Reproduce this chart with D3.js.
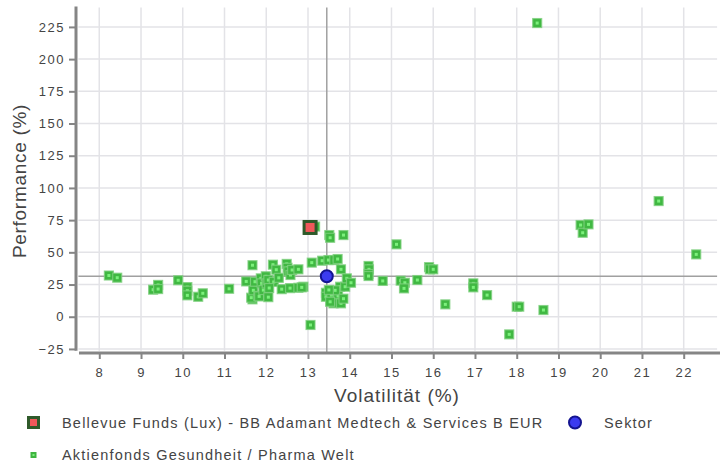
<!DOCTYPE html>
<html>
<head>
<meta charset="utf-8">
<script src="https://cdn.jsdelivr.net/npm/d3@7"></script>
<style>
  body { margin: 0; background: #fff; }
  text { font-family: "Liberation Sans", Arial, sans-serif; }
</style>
</head>
<body>
<div id="chart"></div>
<script>
// peer funds: volatility (%) and performance (%)
const peerVol = [
  8.23, 8.43, 9.29, 9.41, 9.41, 9.89, 10.11, 10.11, 10.11, 10.37, 10.48, 11.11,
  11.52, 11.67, 11.67, 11.64, 11.69, 11.73, 11.81, 11.83, 11.87, 11.89, 11.93, 11.99,
  12.01, 12.05, 12.05, 12.16, 12.18, 12.24, 12.30, 12.37, 12.49, 12.51, 12.53, 12.58,
  12.57, 12.62, 12.77, 12.77, 12.89, 13.03, 13.17, 13.09, 13.06, 13.34, 13.49, 13.51,
  13.53, 13.63, 13.71, 13.79, 13.85, 13.43, 13.43, 13.56, 13.72, 13.61, 13.79, 13.53,
  13.77, 13.89, 13.93, 14.03, 13.65, 13.85, 13.50, 14.45, 14.46, 14.45, 14.45, 14.79,
  15.12, 15.22, 15.32, 15.30, 15.62, 15.90, 15.92, 16.00, 16.29, 16.96, 16.96, 17.29,
  17.82, 18.00, 18.06, 18.49, 18.64, 19.53, 19.58, 19.72, 21.40, 22.30, 12.07, 12.85
];
const peerPerf = [
  32.0, 30.3, 21.0, 24.7, 21.5, 28.3, 23.0, 20.2, 16.6, 15.5, 18.2, 21.7,
  27.4, 40.0, 13.5, 14.8, 20.5, 27.2, 16.1, 15.8, 29.8, 25.9, 20.7, 31.4,
  25.9, 28.5, 15.2, 40.4, 27.0, 36.5, 30.2, 21.4, 41.0, 38.0, 35.2, 32.4,
  22.2, 36.3, 36.8, 22.5, 23.3, 69.5, 70.0, 42.0, -6.4, 43.5, 44.0, 63.4,
  61.3, 44.0, 44.8, 36.8, 63.4, 18.6, 15.5, 16.8, 16.1, 10.4, 10.4, 11.6,
  23.3, 23.3, 29.8, 26.4, 20.5, 14.0, 20.8, 39.4, 36.8, 33.2, 31.6, 27.8,
  56.2, 28.0, 26.4, 22.0, 28.5, 38.5, 36.8, 36.8, 9.6, 25.9, 22.8, 16.8,
  -13.7, 7.8, 7.8, 228.0, 5.2, 71.2, 65.2, 71.7, 89.8, 48.4, 22.3, 22.8
];

const fundName = 'Bellevue Funds (Lux) - BB Adamant Medtech & Services B EUR';
const fundVol = 13.05;
const fundPerf = 69.3;

const sectorName = 'Sektor';
const sectorVol = 13.45;
const sectorPerf = 31.4;

const peerName = 'Aktienfonds Gesundheit / Pharma  Welt';

const xTicks = [8, 9, 10, 11, 12, 13, 14, 15, 16, 17, 18, 19, 20, 21, 22];
const yTicks = [-25, 0, 25, 50, 75, 100, 125, 150, 175, 200, 225];

const width = 720;
const height = 463;

const svg = d3.select('#chart')
  .append('svg')
    .attr('width', width)
    .attr('height', height);

const x = d3.scaleLinear().domain([7.5, 22.8]).range([78.4, 717.1]);
const y = d3.scaleLinear().domain([-28, 240]).range([352.8, 7.6]);

const [x0, x1] = x.range();
const [y0, y1] = y.range();

// grid
svg.append('g')
  .selectAll('line')
  .data(xTicks)
  .join('line')
    .attr('x1', d => x(d)).attr('x2', d => x(d))
    .attr('y1', y1).attr('y2', y0 - 2)
    .attr('stroke', '#e3e3e7')
    .attr('stroke-width', 1.5);

svg.append('g')
  .selectAll('line')
  .data(yTicks)
  .join('line')
    .attr('x1', x0).attr('x2', x1)
    .attr('y1', d => y(d)).attr('y2', d => y(d))
    .attr('stroke', '#e3e3e7')
    .attr('stroke-width', 1.5);

// sector crosshair
svg.append('line')
  .attr('x1', x(sectorVol)).attr('x2', x(sectorVol))
  .attr('y1', y1).attr('y2', y0)
  .attr('stroke', '#a0a0a0')
  .attr('stroke-width', 1.5);
svg.append('line')
  .attr('x1', x0).attr('x2', x1)
  .attr('y1', y(sectorPerf)).attr('y2', y(sectorPerf))
  .attr('stroke', '#a0a0a0')
  .attr('stroke-width', 1.5);

// axes
const yAxis = svg.append('g')
  .attr('transform', 'translate(76,0)')
  .call(d3.axisLeft(y).tickValues(yTicks).tickSize(7).tickPadding(4).tickSizeOuter(0));
const xAxis = svg.append('g')
  .attr('transform', 'translate(0,353)')
  .call(d3.axisBottom(x).tickValues(xTicks).tickSize(6).tickPadding(9).tickSizeOuter(0));

[yAxis, xAxis].forEach(ax => {
  ax.select('.domain').attr('stroke', '#858585').attr('stroke-width', 3);
  ax.selectAll('.tick line').attr('stroke', '#858585').attr('stroke-width', 2);
  ax.selectAll('.tick text')
    .attr('fill', '#444')
    .style('font-size', '13px')
    .style('letter-spacing', '1.5px')
    .style('font-family', '"Liberation Sans", Arial, sans-serif');
});
yAxis.select('.domain').attr('d', `M0,${y1 - 1}V${y(-28) - 2}`);
xAxis.select('.domain').attr('d', `M79,0H${x1 + 3}`);

// axis titles
svg.append('text')
  .attr('x', 397).attr('y', 402)
  .attr('text-anchor', 'middle')
  .attr('fill', '#444')
  .style('font-size', '19px')
  .style('letter-spacing', '1px')
  .text('Volatilität (%)');

svg.append('text')
  .attr('transform', 'translate(26,181) rotate(-90)')
  .attr('text-anchor', 'middle')
  .attr('fill', '#444')
  .style('font-size', '19px')
  .style('letter-spacing', '0.7px')
  .text('Performance (%)');

// peer markers
function peerMarker(g, cx, cy) {
  g.append('rect')
    .attr('x', cx - 4.5).attr('y', cy - 4.5)
    .attr('width', 9).attr('height', 9)
    .attr('fill', '#40b842')
    .attr('stroke', '#80d080')
    .attr('stroke-opacity', 0.8)
    .attr('stroke-width', 1.2);
  g.append('rect')
    .attr('x', cx - 1.5).attr('y', cy - 1.5)
    .attr('width', 3).attr('height', 3)
    .attr('fill', '#7cf07c');
}

const peers = svg.append('g');
peerVol.forEach((v, i) => peerMarker(peers, x(v), y(peerPerf[i])));

// sector marker
function sectorMarker(g, cx, cy) {
  g.append('circle')
    .attr('cx', cx).attr('cy', cy).attr('r', 6)
    .attr('fill', '#3b3bf0')
    .attr('stroke', '#141490')
    .attr('stroke-width', 2);
}
sectorMarker(svg, x(sectorVol), y(sectorPerf));

// fund marker
function fundMarker(g, cx, cy, s) {
  g.append('rect')
    .attr('x', cx - s / 2).attr('y', cy - s / 2)
    .attr('width', s).attr('height', s)
    .attr('fill', '#f0585a')
    .attr('stroke', '#2f5a2a')
    .attr('stroke-width', 3);
}
fundMarker(svg, x(fundVol), y(fundPerf), 12);

// legend
const legend = svg.append('g');
fundMarker(legend, 33.5, 422.5, 10);
sectorMarker(legend, 575, 422.5);
legend.append('rect')
  .attr('x', 30.5).attr('y', 452).attr('width', 6).attr('height', 6)
  .attr('fill', '#3fb540');
legend.append('rect')
  .attr('x', 32.5).attr('y', 454).attr('width', 2).attr('height', 2)
  .attr('fill', '#7cf07c');

const legendText = [
  { x: 62, y: 427.5, t: fundName },
  { x: 604, y: 427.5, t: sectorName },
  { x: 62, y: 460, t: peerName }
];
legend.selectAll('text')
  .data(legendText)
  .join('text')
    .attr('x', d => d.x).attr('y', d => d.y)
    .attr('fill', '#444')
    .style('font-size', '14.5px')
    .style('letter-spacing', '1.2px')
    .text(d => d.t);
</script>
</body>
</html>
